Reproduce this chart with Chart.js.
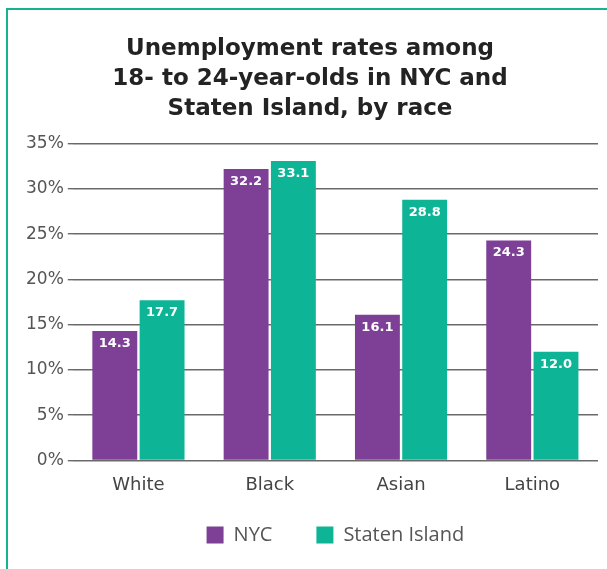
<!DOCTYPE html>
<html>
<head>
<meta charset="utf-8">
<script src="https://cdn.jsdelivr.net/npm/chart.js@4.4.1/dist/chart.umd.min.js"></script>
<style>
	html, body { margin: 0; padding: 0; background: #fff; }
	#frame {
		position: absolute;
		left: 6px;
		top: 8px;
		width: 601px;
		height: 561px;
		border-left: 2px solid #17b390;
		border-top: 2px solid #17b390;
		box-sizing: border-box;
	}
	#wrap { position: absolute; left: 0; top: 0; width: 599px; height: 559px; }
</style>
</head>
<body>
<div id="frame"><div id="wrap"><canvas id="chart-bar"></canvas></div></div>
<script>
const CATEGORIES = ["White", "Black", "Asian", "Latino"];
const NYC = [14.3, 32.2, 16.1, 24.3];
const STATEN_ISLAND = [17.7, 33.1, 28.8, 12.0];
const Y_TICKS = [0, 5, 10, 15, 20, 25, 30, 35];

const PURPLE = "#7d4096";
const TEAL = "#0db596";
const FONT = "'DejaVu Sans', sans-serif";
const LEGEND_FONT = "'Open Sans', 'Noto Sans', sans-serif";
const LEGEND_PAD = 44;
const LEGEND_LIFT = 21;

// white value labels drawn inside the top of each bar
const barLabels = {
	id: "barLabels",
	afterDatasetsDraw(chart) {
		const ctx = chart.ctx;
		ctx.save();
		ctx.fillStyle = "#fff";
		ctx.font = `bold 13px ${FONT}`;
		ctx.textAlign = "center";
		ctx.textBaseline = "top";
		chart.data.datasets.forEach((ds, i) => {
			chart.getDatasetMeta(i).data.forEach((bar, j) => {
				ctx.fillText(ds.data[j].toFixed(1), bar.x, bar.y + 6);
			});
		});
		ctx.restore();
	},
};

// legend: centre it under the plot and pull its items up a bit
// (the wide item gap also pads the legend vertically)
const legendPlace = {
	id: "legendPlace",
	afterLayout(chart) {
		const lg = chart.legend;
		if (!lg) return;
		lg.left = chart.chartArea.left;
		lg.right = chart.chartArea.right;
		lg.top -= LEGEND_LIFT;
		lg.height += LEGEND_LIFT;
	},
};

const DATA = {
	labels: CATEGORIES,
	datasets: [
		{ label: "NYC", data: NYC, backgroundColor: PURPLE },
		{ label: "Staten Island", data: STATEN_ISLAND, backgroundColor: TEAL },
	],
};

const CONFIG = {
	type: "bar",
	data: DATA,
	plugins: [barLabels, legendPlace],
	options: {
		responsive: true,
		maintainAspectRatio: false,
		animation: false,
		categoryPercentage: 0.72,
		barPercentage: 0.95,
		layout: { padding: { left: 14, right: 9, top: 14, bottom: 12 } },
		scales: {
			x: {
				grid: { display: false },
				border: { display: false },
				ticks: { color: "#444", font: { family: FONT, size: 18 }, padding: 6 },
			},
			y: {
				min: 0,
				max: 35,
				afterBuildTicks(axis) {
					axis.ticks = Y_TICKS.map((v) => ({ value: v }));
				},
				border: { display: false },
				grid: { color: "#6a6a6a", lineWidth: 1.4, tickLength: 5 },
				ticks: {
					color: "#555",
					font: { family: FONT, size: 17 },
					padding: 4,
					callback: (v) => v + "%",
				},
			},
		},
		plugins: {
			title: {
				display: true,
				text: ["Unemployment rates among", "18- to 24-year-olds in NYC and", "Staten Island, by race"],
				color: "#232323",
				font: { family: FONT, size: 23, weight: "bold", lineHeight: 1.3 },
				padding: { top: 10, bottom: 20 },
			},
			legend: {
				position: "bottom",
				maxHeight: 55,
				labels: {
					color: "#555",
					font: { family: LEGEND_FONT, size: 20 },
					boxWidth: 17,
					boxHeight: 17,
					padding: LEGEND_PAD,
				},
			},
			tooltip: { enabled: false },
		},
	},
};

new Chart(document.getElementById("chart-bar"), CONFIG);
</script>
</body>
</html>
